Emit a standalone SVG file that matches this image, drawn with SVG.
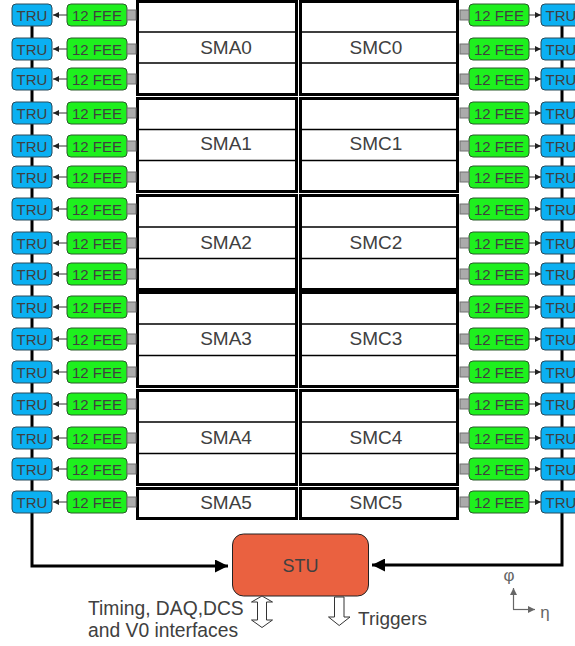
<svg xmlns="http://www.w3.org/2000/svg" width="575" height="646" viewBox="0 0 575 646">
<defs>
<style>
text{font-family:"Liberation Sans",Arial,sans-serif;fill:#404040}
.tru{fill:#0bb0f2;stroke:#2a4a5a;stroke-width:1}
.fee{fill:#1ef01e;stroke:#2a5a2a;stroke-width:1}
.con{fill:#ababab;stroke:#707070;stroke-width:1}
.lbl{font-size:15px;text-anchor:middle}
.sm{fill:#fff;stroke:#000;stroke-width:3}
.row{stroke:#000;stroke-width:1.3}
.sml{font-size:19px;text-anchor:middle}
.bus{fill:none;stroke:#000;stroke-width:3}
.thin{stroke:#333;stroke-width:1;fill:none}
.hollow{fill:#fff;stroke:#333;stroke-width:1}
</style>
<marker id="sa" viewBox="0 0 10 10" refX="10" refY="5" markerWidth="6" markerHeight="6" markerUnits="userSpaceOnUse" orient="auto"><path d="M0,0 L10,5 L0,10 z" fill="#222"/></marker>
<marker id="ba" viewBox="0 0 10 10" refX="10" refY="5" markerWidth="14" markerHeight="13" markerUnits="userSpaceOnUse" orient="auto"><path d="M0,0 L10,5 L0,10 z" fill="#000"/></marker>
<marker id="ga" viewBox="0 0 10 10" refX="10" refY="5" markerWidth="8" markerHeight="7" markerUnits="userSpaceOnUse" orient="auto"><path d="M0,0 L10,5 L0,10 z" fill="#666"/></marker>
</defs>
<g id="connectors">
<path class="bus" d="M32,15 V566 H228" marker-end="url(#ba)"/>
<path class="bus" d="M562,15 V565 H372" marker-end="url(#ba)"/>
<g class="thin" marker-end="url(#sa)">
<path d="M67,15 H53"/><path d="M67,49 H53"/><path d="M67,79 H53"/><path d="M67,113 H53"/>
<path d="M67,146 H53"/><path d="M67,177 H53"/><path d="M67,209 H53"/><path d="M67,243 H53"/>
<path d="M67,274 H53"/><path d="M67,307 H53"/><path d="M67,339 H53"/><path d="M67,372 H53"/>
<path d="M67,404 H53"/><path d="M67,438 H53"/><path d="M67,469 H53"/><path d="M67,502 H53"/>
<path d="M529,15 H541"/><path d="M529,49 H541"/><path d="M529,79 H541"/><path d="M529,113 H541"/>
<path d="M529,146 H541"/><path d="M529,177 H541"/><path d="M529,209 H541"/><path d="M529,243 H541"/>
<path d="M529,274 H541"/><path d="M529,307 H541"/><path d="M529,339 H541"/><path d="M529,372 H541"/>
<path d="M529,404 H541"/><path d="M529,438 H541"/><path d="M529,469 H541"/><path d="M529,502 H541"/>
</g>
</g>
<g id="supermodules">
<g id="SMA0"><rect class="sm" x="137.5" y="1.5" width="159" height="93"/><path class="row" d="M137,32 H297 M137,63 H297"/><text class="sml" x="226" y="54">SMA0</text></g>
<g id="SMA1"><rect class="sm" x="137.5" y="98.5" width="159" height="93"/><path class="row" d="M137,129.5 H297 M137,160.5 H297"/><text class="sml" x="226" y="150">SMA1</text></g>
<g id="SMA2"><rect class="sm" x="137.5" y="195.5" width="159" height="94"/><path class="row" d="M137,227 H297 M137,258.5 H297"/><text class="sml" x="226" y="249">SMA2</text></g>
<g id="SMA3"><rect class="sm" x="137.5" y="292.5" width="159" height="94"/><path class="row" d="M137,324 H297 M137,355.5 H297"/><text class="sml" x="226" y="345">SMA3</text></g>
<g id="SMA4"><rect class="sm" x="137.5" y="390.5" width="159" height="94"/><path class="row" d="M137,422 H297 M137,453.5 H297"/><text class="sml" x="226" y="444">SMA4</text></g>
<g id="SMA5"><rect class="sm" x="137.5" y="488.5" width="159" height="30"/><text class="sml" x="226" y="509">SMA5</text></g>
<g id="SMC0"><rect class="sm" x="300.5" y="1.5" width="157" height="93"/><path class="row" d="M300,32 H458 M300,63 H458"/><text class="sml" x="376" y="54">SMC0</text></g>
<g id="SMC1"><rect class="sm" x="300.5" y="98.5" width="157" height="93"/><path class="row" d="M300,129.5 H458 M300,160.5 H458"/><text class="sml" x="376" y="150">SMC1</text></g>
<g id="SMC2"><rect class="sm" x="300.5" y="195.5" width="157" height="94"/><path class="row" d="M300,227 H458 M300,258.5 H458"/><text class="sml" x="376" y="249">SMC2</text></g>
<g id="SMC3"><rect class="sm" x="300.5" y="292.5" width="157" height="94"/><path class="row" d="M300,324 H458 M300,355.5 H458"/><text class="sml" x="376" y="345">SMC3</text></g>
<g id="SMC4"><rect class="sm" x="300.5" y="390.5" width="157" height="94"/><path class="row" d="M300,422 H458 M300,453.5 H458"/><text class="sml" x="376" y="444">SMC4</text></g>
<g id="SMC5"><rect class="sm" x="300.5" y="488.5" width="157" height="30"/><text class="sml" x="376" y="509">SMC5</text></g>
</g>
<g id="left-readout">
<g id="L0"><rect class="tru" x="12" y="4" width="40" height="22" rx="4"/><text class="lbl" x="32" y="20.5">TRU</text><rect class="fee" x="67" y="4" width="60" height="22" rx="4"/><text class="lbl" x="97" y="20.5">12 FEE</text><rect class="con" x="127" y="10" width="9" height="10"/></g>
<g id="L1"><rect class="tru" x="12" y="38" width="40" height="22" rx="4"/><text class="lbl" x="32" y="54.5">TRU</text><rect class="fee" x="67" y="38" width="60" height="22" rx="4"/><text class="lbl" x="97" y="54.5">12 FEE</text><rect class="con" x="127" y="44" width="9" height="10"/></g>
<g id="L2"><rect class="tru" x="12" y="68" width="40" height="22" rx="4"/><text class="lbl" x="32" y="84.5">TRU</text><rect class="fee" x="67" y="68" width="60" height="22" rx="4"/><text class="lbl" x="97" y="84.5">12 FEE</text><rect class="con" x="127" y="74" width="9" height="10"/></g>
<g id="L3"><rect class="tru" x="12" y="102" width="40" height="22" rx="4"/><text class="lbl" x="32" y="118.5">TRU</text><rect class="fee" x="67" y="102" width="60" height="22" rx="4"/><text class="lbl" x="97" y="118.5">12 FEE</text><rect class="con" x="127" y="108" width="9" height="10"/></g>
<g id="L4"><rect class="tru" x="12" y="135" width="40" height="22" rx="4"/><text class="lbl" x="32" y="151.5">TRU</text><rect class="fee" x="67" y="135" width="60" height="22" rx="4"/><text class="lbl" x="97" y="151.5">12 FEE</text><rect class="con" x="127" y="141" width="9" height="10"/></g>
<g id="L5"><rect class="tru" x="12" y="166" width="40" height="22" rx="4"/><text class="lbl" x="32" y="182.5">TRU</text><rect class="fee" x="67" y="166" width="60" height="22" rx="4"/><text class="lbl" x="97" y="182.5">12 FEE</text><rect class="con" x="127" y="172" width="9" height="10"/></g>
<g id="L6"><rect class="tru" x="12" y="198" width="40" height="22" rx="4"/><text class="lbl" x="32" y="214.5">TRU</text><rect class="fee" x="67" y="198" width="60" height="22" rx="4"/><text class="lbl" x="97" y="214.5">12 FEE</text><rect class="con" x="127" y="204" width="9" height="10"/></g>
<g id="L7"><rect class="tru" x="12" y="232" width="40" height="22" rx="4"/><text class="lbl" x="32" y="248.5">TRU</text><rect class="fee" x="67" y="232" width="60" height="22" rx="4"/><text class="lbl" x="97" y="248.5">12 FEE</text><rect class="con" x="127" y="238" width="9" height="10"/></g>
<g id="L8"><rect class="tru" x="12" y="263" width="40" height="22" rx="4"/><text class="lbl" x="32" y="279.5">TRU</text><rect class="fee" x="67" y="263" width="60" height="22" rx="4"/><text class="lbl" x="97" y="279.5">12 FEE</text><rect class="con" x="127" y="269" width="9" height="10"/></g>
<g id="L9"><rect class="tru" x="12" y="296" width="40" height="22" rx="4"/><text class="lbl" x="32" y="312.5">TRU</text><rect class="fee" x="67" y="296" width="60" height="22" rx="4"/><text class="lbl" x="97" y="312.5">12 FEE</text><rect class="con" x="127" y="302" width="9" height="10"/></g>
<g id="L10"><rect class="tru" x="12" y="328" width="40" height="22" rx="4"/><text class="lbl" x="32" y="344.5">TRU</text><rect class="fee" x="67" y="328" width="60" height="22" rx="4"/><text class="lbl" x="97" y="344.5">12 FEE</text><rect class="con" x="127" y="334" width="9" height="10"/></g>
<g id="L11"><rect class="tru" x="12" y="361" width="40" height="22" rx="4"/><text class="lbl" x="32" y="377.5">TRU</text><rect class="fee" x="67" y="361" width="60" height="22" rx="4"/><text class="lbl" x="97" y="377.5">12 FEE</text><rect class="con" x="127" y="367" width="9" height="10"/></g>
<g id="L12"><rect class="tru" x="12" y="393" width="40" height="22" rx="4"/><text class="lbl" x="32" y="409.5">TRU</text><rect class="fee" x="67" y="393" width="60" height="22" rx="4"/><text class="lbl" x="97" y="409.5">12 FEE</text><rect class="con" x="127" y="399" width="9" height="10"/></g>
<g id="L13"><rect class="tru" x="12" y="427" width="40" height="22" rx="4"/><text class="lbl" x="32" y="443.5">TRU</text><rect class="fee" x="67" y="427" width="60" height="22" rx="4"/><text class="lbl" x="97" y="443.5">12 FEE</text><rect class="con" x="127" y="433" width="9" height="10"/></g>
<g id="L14"><rect class="tru" x="12" y="458" width="40" height="22" rx="4"/><text class="lbl" x="32" y="474.5">TRU</text><rect class="fee" x="67" y="458" width="60" height="22" rx="4"/><text class="lbl" x="97" y="474.5">12 FEE</text><rect class="con" x="127" y="464" width="9" height="10"/></g>
<g id="L15"><rect class="tru" x="12" y="491" width="40" height="22" rx="4"/><text class="lbl" x="32" y="507.5">TRU</text><rect class="fee" x="67" y="491" width="60" height="22" rx="4"/><text class="lbl" x="97" y="507.5">12 FEE</text><rect class="con" x="127" y="497" width="9" height="10"/></g>
</g>
<g id="right-readout">
<g id="R0"><rect class="tru" x="541" y="4" width="40" height="22" rx="4"/><text class="lbl" x="561" y="20.5">TRU</text><rect class="fee" x="469" y="4" width="60" height="22" rx="4"/><text class="lbl" x="499" y="20.5">12 FEE</text><rect class="con" x="460" y="10" width="9" height="10"/></g>
<g id="R1"><rect class="tru" x="541" y="38" width="40" height="22" rx="4"/><text class="lbl" x="561" y="54.5">TRU</text><rect class="fee" x="469" y="38" width="60" height="22" rx="4"/><text class="lbl" x="499" y="54.5">12 FEE</text><rect class="con" x="460" y="44" width="9" height="10"/></g>
<g id="R2"><rect class="tru" x="541" y="68" width="40" height="22" rx="4"/><text class="lbl" x="561" y="84.5">TRU</text><rect class="fee" x="469" y="68" width="60" height="22" rx="4"/><text class="lbl" x="499" y="84.5">12 FEE</text><rect class="con" x="460" y="74" width="9" height="10"/></g>
<g id="R3"><rect class="tru" x="541" y="102" width="40" height="22" rx="4"/><text class="lbl" x="561" y="118.5">TRU</text><rect class="fee" x="469" y="102" width="60" height="22" rx="4"/><text class="lbl" x="499" y="118.5">12 FEE</text><rect class="con" x="460" y="108" width="9" height="10"/></g>
<g id="R4"><rect class="tru" x="541" y="135" width="40" height="22" rx="4"/><text class="lbl" x="561" y="151.5">TRU</text><rect class="fee" x="469" y="135" width="60" height="22" rx="4"/><text class="lbl" x="499" y="151.5">12 FEE</text><rect class="con" x="460" y="141" width="9" height="10"/></g>
<g id="R5"><rect class="tru" x="541" y="166" width="40" height="22" rx="4"/><text class="lbl" x="561" y="182.5">TRU</text><rect class="fee" x="469" y="166" width="60" height="22" rx="4"/><text class="lbl" x="499" y="182.5">12 FEE</text><rect class="con" x="460" y="172" width="9" height="10"/></g>
<g id="R6"><rect class="tru" x="541" y="198" width="40" height="22" rx="4"/><text class="lbl" x="561" y="214.5">TRU</text><rect class="fee" x="469" y="198" width="60" height="22" rx="4"/><text class="lbl" x="499" y="214.5">12 FEE</text><rect class="con" x="460" y="204" width="9" height="10"/></g>
<g id="R7"><rect class="tru" x="541" y="232" width="40" height="22" rx="4"/><text class="lbl" x="561" y="248.5">TRU</text><rect class="fee" x="469" y="232" width="60" height="22" rx="4"/><text class="lbl" x="499" y="248.5">12 FEE</text><rect class="con" x="460" y="238" width="9" height="10"/></g>
<g id="R8"><rect class="tru" x="541" y="263" width="40" height="22" rx="4"/><text class="lbl" x="561" y="279.5">TRU</text><rect class="fee" x="469" y="263" width="60" height="22" rx="4"/><text class="lbl" x="499" y="279.5">12 FEE</text><rect class="con" x="460" y="269" width="9" height="10"/></g>
<g id="R9"><rect class="tru" x="541" y="296" width="40" height="22" rx="4"/><text class="lbl" x="561" y="312.5">TRU</text><rect class="fee" x="469" y="296" width="60" height="22" rx="4"/><text class="lbl" x="499" y="312.5">12 FEE</text><rect class="con" x="460" y="302" width="9" height="10"/></g>
<g id="R10"><rect class="tru" x="541" y="328" width="40" height="22" rx="4"/><text class="lbl" x="561" y="344.5">TRU</text><rect class="fee" x="469" y="328" width="60" height="22" rx="4"/><text class="lbl" x="499" y="344.5">12 FEE</text><rect class="con" x="460" y="334" width="9" height="10"/></g>
<g id="R11"><rect class="tru" x="541" y="361" width="40" height="22" rx="4"/><text class="lbl" x="561" y="377.5">TRU</text><rect class="fee" x="469" y="361" width="60" height="22" rx="4"/><text class="lbl" x="499" y="377.5">12 FEE</text><rect class="con" x="460" y="367" width="9" height="10"/></g>
<g id="R12"><rect class="tru" x="541" y="393" width="40" height="22" rx="4"/><text class="lbl" x="561" y="409.5">TRU</text><rect class="fee" x="469" y="393" width="60" height="22" rx="4"/><text class="lbl" x="499" y="409.5">12 FEE</text><rect class="con" x="460" y="399" width="9" height="10"/></g>
<g id="R13"><rect class="tru" x="541" y="427" width="40" height="22" rx="4"/><text class="lbl" x="561" y="443.5">TRU</text><rect class="fee" x="469" y="427" width="60" height="22" rx="4"/><text class="lbl" x="499" y="443.5">12 FEE</text><rect class="con" x="460" y="433" width="9" height="10"/></g>
<g id="R14"><rect class="tru" x="541" y="458" width="40" height="22" rx="4"/><text class="lbl" x="561" y="474.5">TRU</text><rect class="fee" x="469" y="458" width="60" height="22" rx="4"/><text class="lbl" x="499" y="474.5">12 FEE</text><rect class="con" x="460" y="464" width="9" height="10"/></g>
<g id="R15"><rect class="tru" x="541" y="491" width="40" height="22" rx="4"/><text class="lbl" x="561" y="507.5">TRU</text><rect class="fee" x="469" y="491" width="60" height="22" rx="4"/><text class="lbl" x="499" y="507.5">12 FEE</text><rect class="con" x="460" y="497" width="9" height="10"/></g>
</g>
<g id="STU">
<rect x="232.5" y="534" width="136" height="62" rx="11" fill="#ea6140" stroke="#222" stroke-width="1"/>
<text x="300.5" y="572" font-size="18" text-anchor="middle">STU</text>
</g>
<g id="io">
<path class="hollow" d="M262,596 L272.5,602 H266.5 V620 H272.5 L262,627.5 L251.5,620 H257.5 V602 H251.5 Z"/>
<path class="hollow" d="M334.5,597 H344 V617 H350 L339.2,625.5 L328.5,617 H334.5 Z"/>
<text x="88" y="615" font-size="19.3">Timing, DAQ,DCS</text>
<text x="88" y="637" font-size="19.3">and V0 interfaces</text>
<text x="358" y="625" font-size="19">Triggers</text>
</g>
<g id="axes">
<path d="M513.5,609.5 V588" stroke="#666" stroke-width="1.2" fill="none" marker-end="url(#ga)"/>
<path d="M513,609.5 H535" stroke="#666" stroke-width="1.2" fill="none" marker-end="url(#ga)"/>
<text x="509" y="581" font-size="17" text-anchor="middle" style="fill:#666">φ</text>
<text x="545" y="618" font-size="17" text-anchor="middle" style="fill:#666">η</text>
</g>
</svg>
